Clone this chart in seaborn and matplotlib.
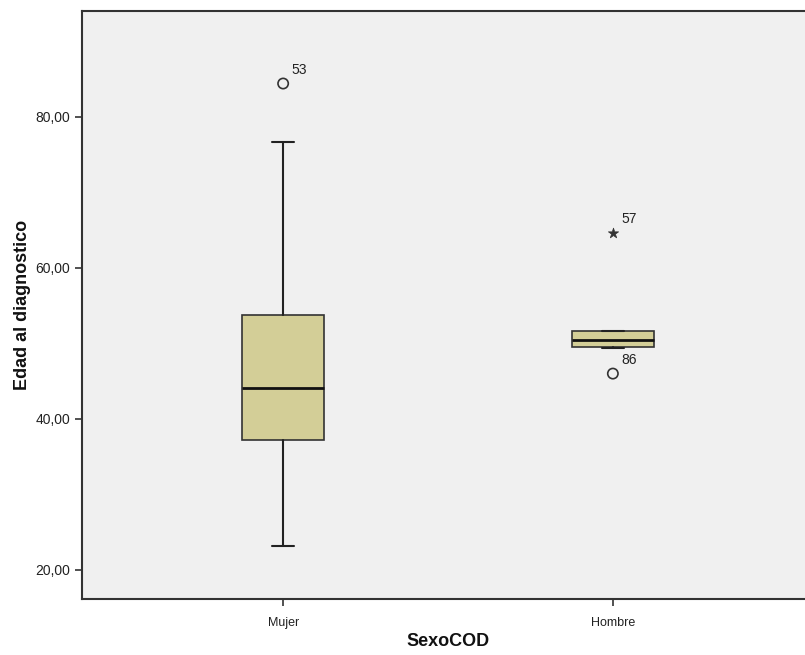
import matplotlib
matplotlib.use("Agg")
import matplotlib.pyplot as plt
import seaborn as sns
import pandas as pd

sns.set_theme(style="white")
plt.rcParams['font.family'] = ['Liberation Sans', 'DejaVu Sans']

categories = ["Mujer", "Hombre"]
q1 = [37.2, 49.5]
median = [44.1, 50.4]
q3 = [53.8, 51.6]
whisker_low = [23.2, 49.4]
whisker_high = [76.6, 51.7]
# outliers: (category, value, label, kind)
out_cat = ["Mujer", "Hombre", "Hombre"]
out_val = [84.4, 64.6, 46.0]
out_lab = ["53", "57", "86"]
out_kind = ["circle", "star", "circle"]

yticks = [20, 40, 60, 80]
ytick_labels = ["20,00", "40,00", "60,00", "80,00"]

fig = plt.figure(figsize=(8.05, 6.55), dpi=100)
ax = fig.add_axes([82/805, 56/655, 732/805, 588/655])
ax.set_facecolor("#F0F0F0")

stats = []
for i, c in enumerate(categories):
    stats.append(dict(label=c, q1=q1[i], med=median[i], q3=q3[i],
                      whislo=whisker_low[i], whishi=whisker_high[i], fliers=[]))

ax.bxp(stats, positions=range(len(categories)), widths=0.25, capwidths=0.065,
       patch_artist=True, showfliers=False,
       boxprops=dict(facecolor="#D3CE97", edgecolor="#333333", linewidth=1.2),
       medianprops=dict(color="#111111", linewidth=2.0),
       whiskerprops=dict(color="#222222", linewidth=1.5),
       capprops=dict(color="#222222", linewidth=1.5))

df = pd.DataFrame({"x": [categories.index(c) for c in out_cat], "y": out_val,
                   "lab": out_lab, "kind": out_kind})
circ = df[df.kind == "circle"]
star = df[df.kind == "star"]
sns.scatterplot(data=circ, x="x", y="y", ax=ax, marker="o", s=55,
                facecolor="none", edgecolor="#333333", linewidth=1.2, legend=False)
sns.scatterplot(data=star, x="x", y="y", ax=ax, marker="*", s=60,
                color="#333333", edgecolor="#333333", linewidth=0.5, legend=False)
for _, r in df.iterrows():
    ax.annotate(r["lab"], (r["x"], r["y"]), xytext=(6, 5), textcoords="offset points",
                fontsize=10, color="#222222", ha="left", va="bottom")

ax.set_xlim(-0.61, 1.61)
ax.set_ylim(16.16, 94.0)
ax.set_xticks(range(len(categories)))
ax.set_xticklabels(categories, fontsize=9, color="#222222")
ax.set_yticks(yticks)
ax.set_yticklabels(ytick_labels, fontsize=10, color="#222222")
ax.tick_params(axis="both", direction="out", length=5, width=1.2, colors="#333333",
               left=True, bottom=True)
ax.tick_params(axis="x", pad=8)
for lab in ax.get_xticklabels() + ax.get_yticklabels():
    lab.set_color("#222222")
for s in ax.spines.values():
    s.set_color("#333333")
    s.set_linewidth(1.5)

ax.set_xlabel("SexoCOD", fontsize=13, fontweight="bold", color="#111111", labelpad=3)
ax.set_ylabel("Edad al diagnostico", fontsize=13, fontweight="bold", color="#111111", labelpad=3)

fig.savefig("out.png", dpi=100)
